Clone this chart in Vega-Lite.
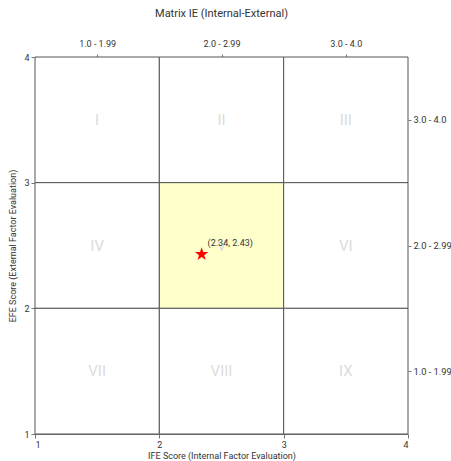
{
  "$schema": "https://vega.github.io/schema/vega-lite/v6.json",
  "autosize": "none",
  "width": 373,
  "height": 377,
  "padding": {"left": 35, "top": 57, "right": 43, "bottom": 27},
  "title": {"text": "Matrix IE (Internal-External)", "fontSize": 11, "fontWeight": "normal", "color": "#333", "font": "Roboto", "offset": 20},
  "config": {
    "view": {"stroke": null},
    "font": "Roboto",
    "axis": {"domainColor": "#777", "tickColor": "#777", "labelColor": "#333", "titleColor": "#333", "labelFontSize": 9, "titleFontSize": 9, "titleFontWeight": "normal", "grid": false, "tickSize": 4, "labelPadding": 2}
  },
  "datasets": {
    "cells": [
      {"x": 1, "x2": 2, "y": 3, "y2": 4, "cx": 1.5, "cy": 3.5, "label": "I", "zone": "other"},
      {"x": 2, "x2": 3, "y": 3, "y2": 4, "cx": 2.5, "cy": 3.5, "label": "II", "zone": "other"},
      {"x": 3, "x2": 4, "y": 3, "y2": 4, "cx": 3.5, "cy": 3.5, "label": "III", "zone": "other"},
      {"x": 1, "x2": 2, "y": 2, "y2": 3, "cx": 1.5, "cy": 2.5, "label": "IV", "zone": "other"},
      {"x": 2, "x2": 3, "y": 2, "y2": 3, "cx": 2.5, "cy": 2.5, "label": "V", "zone": "current"},
      {"x": 3, "x2": 4, "y": 2, "y2": 3, "cx": 3.5, "cy": 2.5, "label": "VI", "zone": "other"},
      {"x": 1, "x2": 2, "y": 1, "y2": 2, "cx": 1.5, "cy": 1.5, "label": "VII", "zone": "other"},
      {"x": 2, "x2": 3, "y": 1, "y2": 2, "cx": 2.5, "cy": 1.5, "label": "VIII", "zone": "other"},
      {"x": 3, "x2": 4, "y": 1, "y2": 2, "cx": 3.5, "cy": 1.5, "label": "IX", "zone": "other"}
    ],
    "point": [{"ife": 2.34, "efe": 2.43, "text": "(2.34, 2.43)"}]
  },
  "layer": [
    {
      "data": {"name": "cells"},
      "mark": {"type": "rect", "stroke": "#555", "strokeWidth": 1},
      "encoding": {
        "x": {"field": "x", "type": "quantitative", "scale": {"domain": [1, 4], "nice": false, "zero": false},
              "axis": {"orient": "bottom", "values": [1, 2, 3, 4], "title": "IFE Score (Internal Factor Evaluation)", "titlePadding": 2}},
        "x2": {"field": "x2"},
        "y": {"field": "y", "type": "quantitative", "scale": {"domain": [1, 4], "nice": false, "zero": false},
              "axis": {"orient": "left", "values": [1, 2, 3, 4], "title": "EFE Score (External Factor Evaluation)", "titlePadding": 6}},
        "y2": {"field": "y2"},
        "fill": {"field": "zone", "type": "nominal", "scale": {"domain": ["current", "other"], "range": ["#ffffcc", "#ffffff"]}, "legend": null}
      }
    },
    {
      "data": {"name": "cells"},
      "mark": {"type": "text", "fontSize": 15, "color": "#dcdcdc", "align": "center", "baseline": "middle"},
      "encoding": {
        "x": {"field": "cx", "type": "quantitative", "scale": {"domain": [1, 4], "nice": false, "zero": false},
              "axis": {"orient": "top", "values": [1.5, 2.5, 3.5], "title": null, "domain": false, "tickSize": 3, "labelPadding": 6,
                       "labelExpr": "datum.value == 1.5 ? '1.0 - 1.99' : datum.value == 2.5 ? '2.0 - 2.99' : '3.0 - 4.0'"}},
        "y": {"field": "cy", "type": "quantitative", "scale": {"domain": [1, 4], "nice": false, "zero": false},
              "axis": {"orient": "right", "values": [1.5, 2.5, 3.5], "title": null, "domain": false, "tickSize": 3, "labelPadding": 2, "labelFontSize": 9.3,
                       "labelExpr": "datum.value == 1.5 ? '1.0 - 1.99' : datum.value == 2.5 ? '2.0 - 2.99' : '3.0 - 4.0'"}},
        "text": {"field": "label", "type": "nominal"}
      }
    },
    {
      "data": {"name": "point"},
      "mark": {"type": "point", "filled": true, "color": "red", "opacity": 1, "size": 200,
               "shape": "M0,-1L0.2245,-0.309L0.951,-0.309L0.363,0.118L0.588,0.809L0,0.382L-0.588,0.809L-0.363,0.118L-0.951,-0.309L-0.2245,-0.309Z"},
      "encoding": {
        "x": {"field": "ife", "type": "quantitative", "scale": {"domain": [1, 4], "nice": false, "zero": false}, "axis": null},
        "y": {"field": "efe", "type": "quantitative", "scale": {"domain": [1, 4], "nice": false, "zero": false}, "axis": null}
      }
    },
    {
      "data": {"name": "point"},
      "mark": {"type": "text", "fontSize": 9, "color": "#333", "align": "left", "baseline": "middle", "dx": 6, "dy": -11},
      "encoding": {
        "x": {"field": "ife", "type": "quantitative", "scale": {"domain": [1, 4], "nice": false, "zero": false}, "axis": null},
        "y": {"field": "efe", "type": "quantitative", "scale": {"domain": [1, 4], "nice": false, "zero": false}, "axis": null},
        "text": {"field": "text", "type": "nominal"}
      }
    }
  ],
  "resolve": {"axis": {"x": "independent", "y": "independent"}}
}
